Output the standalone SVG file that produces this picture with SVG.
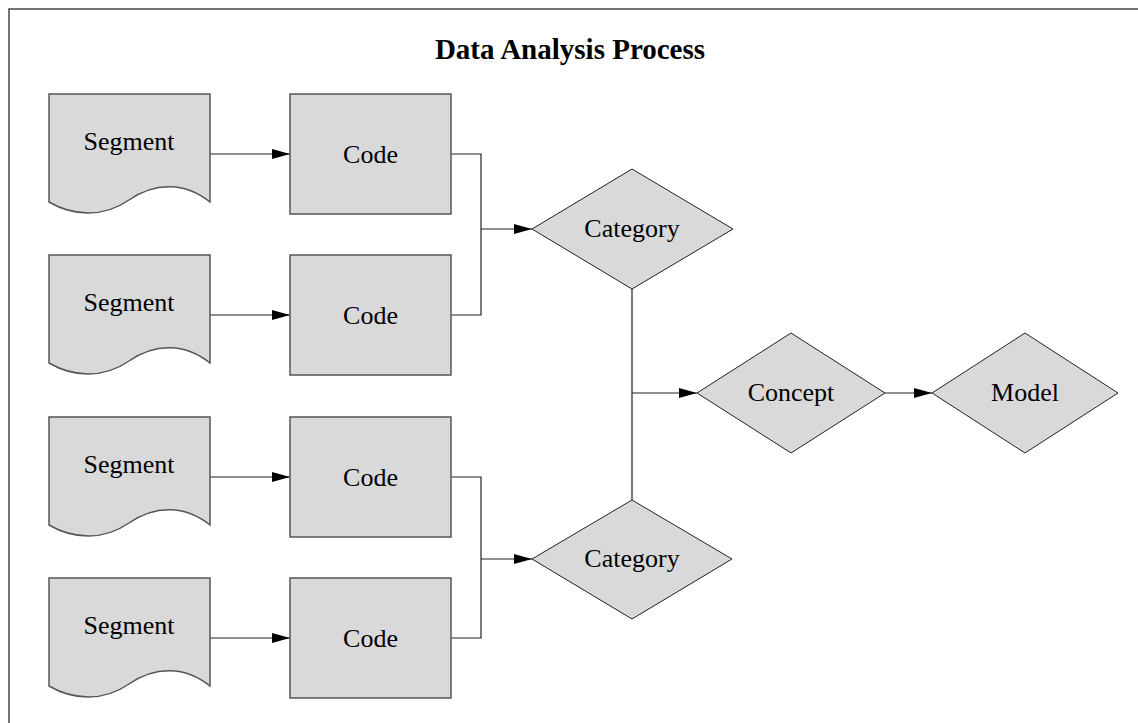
<svg xmlns="http://www.w3.org/2000/svg" width="1138" height="723" viewBox="0 0 1138 723">
<defs>
<style>
.frame{fill:none;stroke:#444;stroke-width:1.5}
.box{fill:#d9d9d9;stroke:#555;stroke-width:1.5}
.dia{fill:#d9d9d9;stroke:#222;stroke-width:1}
.conn{fill:none;stroke:#222;stroke-width:1.2}
.lbl{font-family:"Liberation Serif",serif;font-size:26px;fill:#000;text-anchor:middle}
.title{font-family:"Liberation Serif",serif;font-size:29px;font-weight:bold;fill:#000;text-anchor:middle}
</style>
<marker id="arr" viewBox="0 0 18 10" refX="18" refY="5" markerWidth="18" markerHeight="10" markerUnits="userSpaceOnUse" orient="auto">
<path d="M0,0 L18,5 L0,10 Z" fill="#000"/>
</marker>
<path id="doc" d="M0,0 H161 V108 C136,88 106,88 80,106 C54,124 24,122 0,108 Z"/>
</defs>
<rect class="frame" x="9" y="9" width="1140" height="730"/>
<text class="title" x="570" y="59">Data Analysis Process</text>

<g id="connectors">
<line class="conn" x1="210" y1="154" x2="290" y2="154" marker-end="url(#arr)"/>
<line class="conn" x1="210" y1="315" x2="290" y2="315" marker-end="url(#arr)"/>
<line class="conn" x1="210" y1="477" x2="290" y2="477" marker-end="url(#arr)"/>
<line class="conn" x1="210" y1="638" x2="290" y2="638" marker-end="url(#arr)"/>
<polyline class="conn" points="451,154 481,154 481,315 451,315"/>
<line class="conn" x1="481" y1="229" x2="532" y2="229" marker-end="url(#arr)"/>
<polyline class="conn" points="451,477 481,477 481,638 451,638"/>
<line class="conn" x1="481" y1="559" x2="532" y2="559" marker-end="url(#arr)"/>
<line class="conn" x1="632" y1="289" x2="632" y2="500"/>
<line class="conn" x1="632" y1="393" x2="697" y2="393" marker-end="url(#arr)"/>
<line class="conn" x1="885" y1="393" x2="932" y2="393" marker-end="url(#arr)"/>
</g>

<g id="segment1"><use href="#doc" class="box" x="49" y="94"/><text class="lbl" x="129" y="150">Segment</text></g>
<g id="segment2"><use href="#doc" class="box" x="49" y="255"/><text class="lbl" x="129" y="311">Segment</text></g>
<g id="segment3"><use href="#doc" class="box" x="49" y="417"/><text class="lbl" x="129" y="473">Segment</text></g>
<g id="segment4"><use href="#doc" class="box" x="49" y="578"/><text class="lbl" x="129" y="634">Segment</text></g>

<g id="code1"><rect class="box" x="290" y="94" width="161" height="120"/><text class="lbl" x="370.5" y="163">Code</text></g>
<g id="code2"><rect class="box" x="290" y="255" width="161" height="120"/><text class="lbl" x="370.5" y="324">Code</text></g>
<g id="code3"><rect class="box" x="290" y="417" width="161" height="120"/><text class="lbl" x="370.5" y="486">Code</text></g>
<g id="code4"><rect class="box" x="290" y="578" width="161" height="120"/><text class="lbl" x="370.5" y="647">Code</text></g>

<g id="category1"><polygon class="dia" points="632,169 733,229 632,289 532,229"/><text class="lbl" x="632" y="237">Category</text></g>
<g id="category2"><polygon class="dia" points="632,500 732,559 632,619 532,559"/><text class="lbl" x="632" y="567">Category</text></g>
<g id="concept"><polygon class="dia" points="791,333 885,393 791,453 697,393"/><text class="lbl" x="791" y="401">Concept</text></g>
<g id="model"><polygon class="dia" points="1025,333 1118,393 1025,453 932,393"/><text class="lbl" x="1025" y="401">Model</text></g>
</svg>
